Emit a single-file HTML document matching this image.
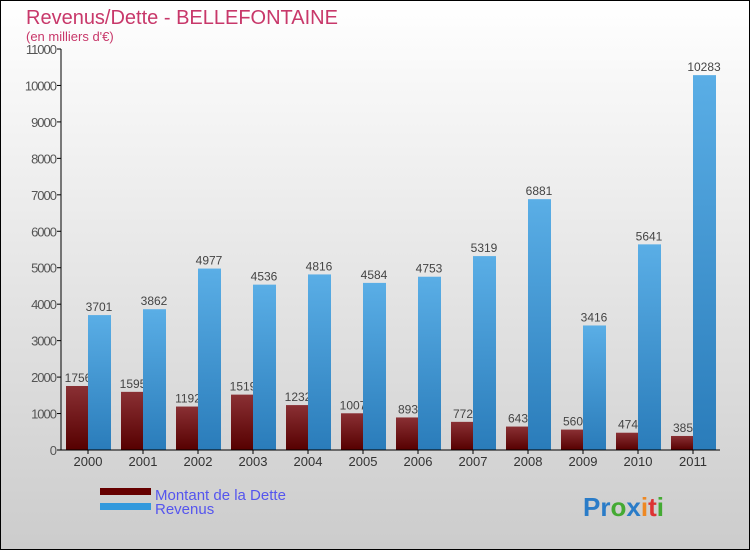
<!DOCTYPE html>
<html><head><meta charset="utf-8"><style>
body{margin:0;width:750px;height:550px;overflow:hidden;font-family:"Liberation Sans",sans-serif}
</style></head><body>
<svg id="c" width="750" height="550" xmlns="http://www.w3.org/2000/svg">
<defs>
<linearGradient id="bg" x1="0" y1="0" x2="0" y2="1"><stop offset="0" stop-color="#ffffff"/><stop offset="1" stop-color="#cccccc"/></linearGradient>
<linearGradient id="gr" x1="0" y1="0" x2="0" y2="1"><stop offset="0" stop-color="#8a3034"/><stop offset="1" stop-color="#560000"/></linearGradient>
<linearGradient id="gb" x1="0" y1="0" x2="0" y2="1"><stop offset="0" stop-color="#5aaee6"/><stop offset="1" stop-color="#2a7cba"/></linearGradient>
</defs>
<rect x="0.5" y="0.5" width="749" height="549" fill="url(#bg)" stroke="#000"/>
<text x="26" y="24" font-size="20" fill="#c8386a">Revenus/Dette - BELLEFONTAINE</text>
<text x="26" y="41" font-size="13" fill="#c8386a">(en milliers d'€)</text>
<g id="plot"></g>
<rect x="100" y="488" width="51" height="7" fill="#660000"/>
<text x="155" y="500" font-size="15" fill="#5555ee">Montant de la Dette</text>
<rect x="100" y="503" width="51" height="7" fill="#3399dd"/>
<text x="155" y="514" font-size="15" fill="#5555ee">Revenus</text>
<text x="583" y="516" font-size="26" font-weight="bold"><tspan fill="#2a7cc8">Pr</tspan><tspan fill="#44aa33">o</tspan><tspan fill="#2a7cc8">x</tspan><tspan fill="#ee8822">i</tspan><tspan fill="#dd3333">t</tspan><tspan fill="#44aa33">i</tspan></text>
</svg>
<script>
const years=["2000","2001","2002","2003","2004","2005","2006","2007","2008","2009","2010","2011"];
const dette=[1756,1595,1192,1519,1232,1007,893,772,643,560,474,385];
const revenus=[3701,3862,4977,4536,4816,4584,4753,5319,6881,3416,5641,10283];
const yTicks=[0,1000,2000,3000,4000,5000,6000,7000,8000,9000,10000,11000];
const NS="http://www.w3.org/2000/svg";
const g=document.getElementById('plot');
const x0=61,y0=450,yTop=49,yMax=11000;
const y=v=>y0-v/yMax*(y0-yTop);
const cx=i=>88+i*55;
function el(t,a,txt){const e=document.createElementNS(NS,t);for(const k in a)e.setAttribute(k,a[k]);if(txt!=null)e.textContent=txt;g.appendChild(e);return e;}
yTicks.forEach(v=>{
 const l=el('line',{x1:x0-4,x2:x0,y1:y(v),y2:y(v),stroke:'#000'});
 
 
 const t=el('text',{x:x0-5,y:y(v)+5,'font-size':13,fill:'#555','text-anchor':'end','letter-spacing':'-1'},v);
 
 
});
years.forEach((yr,i)=>{
 const r=el('rect',{x:cx(i)-22,y:y(dette[i]),width:22,height:y0-y(dette[i]),fill:'url(#gr)'});
 
 
 const t=el('text',{x:cx(i)-10,y:y(dette[i])-4,'font-size':12,fill:'#444','text-anchor':'middle'},dette[i]);
 
 
});
years.forEach((yr,i)=>{
 const r=el('rect',{x:cx(i),y:y(revenus[i]),width:23,height:y0-y(revenus[i]),fill:'url(#gb)'});
 
 
 const t=el('text',{x:cx(i)+11,y:y(revenus[i])-4,'font-size':12,fill:'#444','text-anchor':'middle'},revenus[i]);
 
 
 const k=el('line',{x1:cx(i),x2:cx(i),y1:y0,y2:y0+4,stroke:'#000'});
 
 
 const xl=el('text',{x:cx(i),y:y0+16,'font-size':13,fill:'#333','text-anchor':'middle'},yr);
 
 
});
const ya=el('line',{x1:x0,x2:x0,y1:yTop,y2:y0,stroke:'#000'});


const xa=el('line',{x1:x0,x2:720,y1:y0,y2:y0,stroke:'#000'});


</script>
</body></html>
